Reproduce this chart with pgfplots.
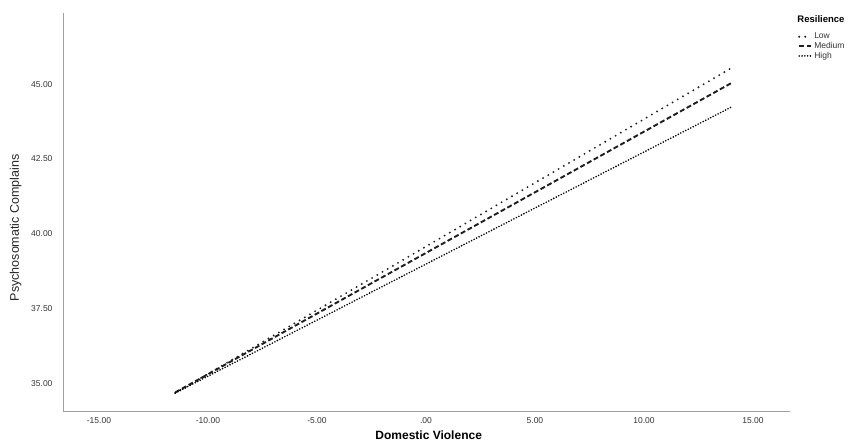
\documentclass[border=0pt]{standalone}
\usepackage{fontspec}
\setmainfont{Liberation Sans}
\usepackage{pgfplots}
\pgfplotsset{compat=1.18}
\definecolor{spine}{HTML}{A0A0A0}
\definecolor{txt}{HTML}{333333}
\definecolor{ln}{HTML}{1E1E1E}

\begin{document}
\begin{tikzpicture}
\useasboundingbox (-63pt,-31pt) rectangle (799pt,411pt);
\begin{axis}[
  at={(0,0)}, anchor=south west,
  scale only axis,
  width=727pt, height=398pt,
  xmin=-16.65, xmax=16.7,
  ymin=34.1, ymax=47.37,
  axis lines*=left,
  axis line style={spine, line width=0.9pt},
  major tick length=0pt,
  xtick={-15,-10,-5,0,5,10,15},
  xticklabels={-15.00,-10.00,-5.00,.00,5.00,10.00,15.00},
  ytick={35,37.5,40,42.5,45},
  yticklabels={35.00,37.50,40.00,42.50,45.00},
  tick label style={font=\fontsize{8.5}{9}\selectfont, text=txt},
  xticklabel style={yshift=-3pt},
  yticklabel style={xshift=-7pt},
  xlabel={\textbf{Domestic Violence}},
  xlabel style={font=\fontsize{12}{13}\selectfont, at={(axis description cs:0.503,0)}, anchor=center, yshift=-24pt},
  ylabel={Psychosomatic Complains},
  ylabel style={font=\fontsize{12.5}{13}\selectfont, text=black!85, at={(axis description cs:-0.065,0.46)}, anchor=center},
  clip=false,
  legend style={at={(rel axis cs:1.011,0.955)}, anchor=north west, draw=none, fill=none,
    font=\fontsize{8.5}{8.5}\selectfont, inner sep=0pt, row sep=-2pt,
    cells={anchor=west, text=txt}},
  legend image post style={xscale=0.7},
]
\addplot[ln, line width=2.1pt, line cap=round, dash pattern=on 0pt off 6pt] coordinates {(-11.5,34.70) (14,45.53)};
\addlegendentry{Low}
\addplot[ln, line width=1.9pt, dash pattern=on 5pt off 2.6pt] coordinates {(-11.5,34.72) (14,45.03)};
\addlegendentry{Medium}
\addplot[black, line width=1.8pt, line cap=round, dash pattern=on 0pt off 2.8pt] coordinates {(-11.5,34.70) (14,44.23)};
\addlegendentry{High}
\node[anchor=west, font=\fontsize{9.5}{9.5}\selectfont\bfseries, text=black, inner sep=0pt] at (rel axis cs:1.01,0.985) {Resilience};
\end{axis}
\end{tikzpicture}
\end{document}
